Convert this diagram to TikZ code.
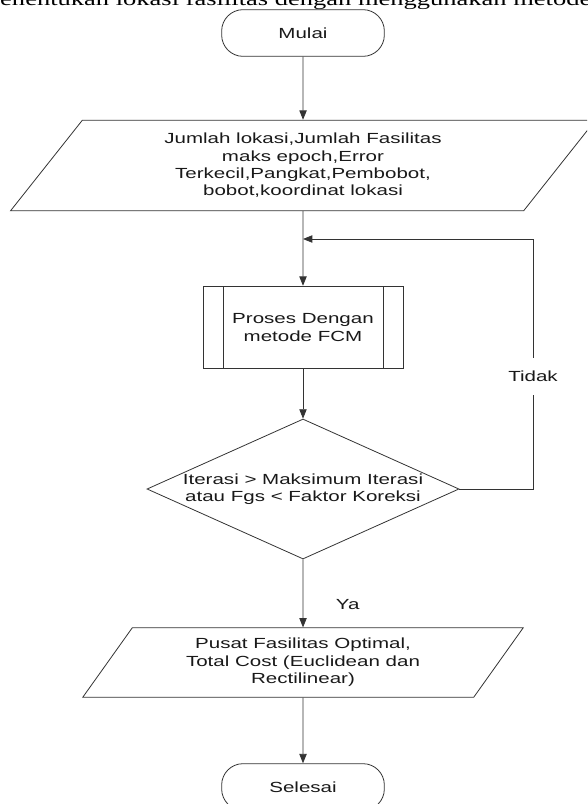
\documentclass[tikz,border=0pt]{standalone}
\usepackage{fontspec}
\setmainfont{Liberation Sans}[FakeStretch=1.4]
\newfontfamily\judulfont{Liberation Serif}[FakeStretch=1.4]
\usetikzlibrary{shapes.geometric,arrows.meta}

\begin{document}
\begin{tikzpicture}[x=0.75pt,y=-0.75pt,
		teks/.style={font=\fontsize{11}{13}\selectfont, text=black!90},
		garis/.style={draw=black!80, line width=0.6pt},
		panah/.style={garis, -{Triangle[length=7pt,width=5.5pt]}},
		terminal/.style={garis, teks, rectangle, rounded corners=16pt,
						 minimum width=122pt, minimum height=35pt},
		jajargenjang/.style={garis, teks, trapezium, trapezium left angle=55,
							 trapezium right angle=125, trapezium stretches=true,
							 inner sep=0pt, align=center},
		prosesbox/.style={garis, teks, rectangle, align=center,
						  minimum width=150pt, minimum height=62pt,
						  path picture={\draw[black!80, line width=0.6pt]
						  	([xshift=15pt]path picture bounding box.north west) -- ([xshift=15pt]path picture bounding box.south west)
						  	([xshift=-15pt]path picture bounding box.north east) -- ([xshift=-15pt]path picture bounding box.south east);}},
		keputusan/.style={garis, diamond, inner sep=0pt,
						  minimum width=234pt, minimum height=105pt}]

		\useasboundingbox (0,0) rectangle (587,804);
		\clip (0,0) rectangle (587,804);

		% judul yang terpotong di atas
		\node[anchor=base west, inner sep=0pt, font=\judulfont\fontsize{14.2}{17}\selectfont] (judul) at (-23.6,5)
			{Menentukan lokasi fasilitas dengan menggunakan metode FCM};

		\node[terminal] (mulai) at (303,33) {Mulai};

		\node[jajargenjang, minimum width=440pt, minimum height=68pt] (input) at (303,165.5)
			{Jumlah lokasi,Jumlah Fasilitas\\maks epoch,Error\\Terkecil,Pangkat,Pembobot,\\bobot,koordinat lokasi};

		\node[prosesbox] (proses) at (303,327.5) {Proses Dengan\\metode FCM};

		\node[keputusan, label={[teks, align=center]center:{Iterasi > Maksimum Iterasi\\atau Fgs < Faktor Koreksi}}] (cek) at (303,489) {};

		\node[jajargenjang, minimum width=331pt, minimum height=52pt] (output) at (303,662.5)
			{Pusat Fasilitas Optimal,\\Total Cost (Euclidean dan\\Rectilinear)};

		\node[terminal] (selesai) at (303,787) {Selesai};

		\coordinate (kanan) at (533,489);
		\coordinate (atas) at (533,239);
		\coordinate (gabung) at (303,239);

		% alur utama
		\draw[panah] (mulai) -- (input);
		\draw[panah] (input) -- (proses);
		\draw[panah] (proses) -- (cek);
		\draw[panah] (cek) -- node[teks, pos=0.67, anchor=west, xshift=21pt] {Ya} (output);
		\draw[panah] (output) -- (selesai);

		% kembali bila belum konvergen
		\draw[panah] (cek.east) -- (kanan) -- node[teks, pos=0.45, fill=white, inner xsep=2pt, inner ysep=10pt] {Tidak} (atas) -- (gabung);

	\end{tikzpicture}
\end{document}
